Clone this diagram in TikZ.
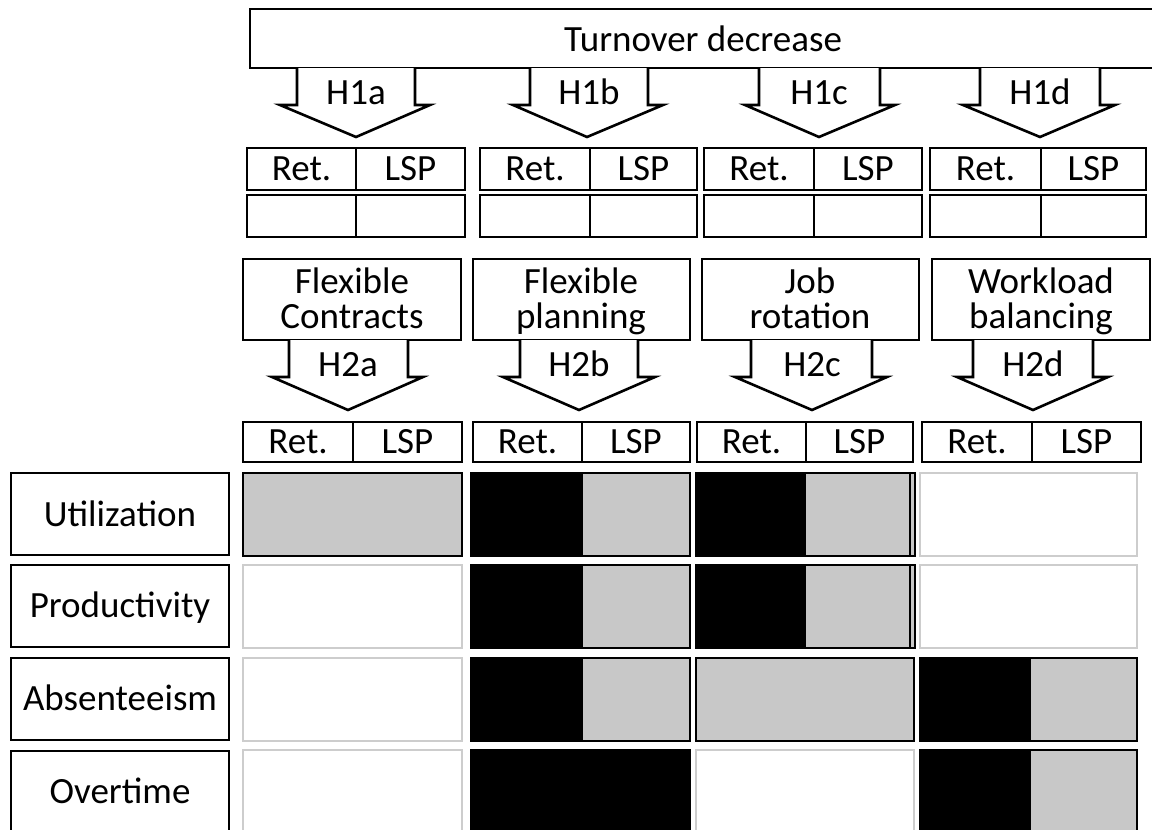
\documentclass[tikz,border=0pt]{standalone}
\usepackage{fontspec}
\setmainfont{Carlito}
\usetikzlibrary{calc}
\definecolor{cellgrey}{RGB}{200,200,200}
\definecolor{lightedge}{RGB}{205,205,205}
\tikzset{
  box/.style={draw=black, line width=2.6pt, fill=white, inner sep=0pt, outer sep=0pt},
  greybox/.style={box, fill=cellgrey},
  blackbox/.style={box, fill=black},
  faintbox/.style={box, draw=lightedge},
  txt/.style={font=\fontsize{37}{35}\selectfont, anchor=base, inner sep=0pt},
  barrow/.style={draw=black, line width=2.6pt, fill=white, line join=miter, miter limit=20}
}
\newcommand\mybox[6]{%
  \pgfmathsetmacro\bw{#4-#2}\pgfmathsetmacro\bh{#5-#3}%
  \node[#6, minimum width=\bw pt, minimum height=\bh pt] (#1) at ({(#2+#4)/2},{(#3+#5)/2}) {};}
% top, wing, tip, shaftL, shaftR, wingL, wingR, tipx
\newcommand\blockarrow[8]{%
  \draw[barrow] (#4,#1) -- (#4,#2) -- (#6,#2) -- (#8,#3) -- (#7,#2) -- (#5,#2) -- (#5,#1);}
\begin{document}
\begin{tikzpicture}[x=1pt,y=-1pt]
\useasboundingbox (0,0) rectangle (1152,830);
\clip (0,0) rectangle (1152,830);
% top box
\mybox{top}{250}{9}{1158}{68}{box}
\node[txt] (toptxt) at (703,51) {Turnover decrease};
% H1 arrows
\blockarrow{68}{105}{137}{297}{415}{280}{430}{356}
\blockarrow{68}{105}{137}{530}{648}{513}{663}{587}
\blockarrow{68}{105}{137}{759}{880}{745}{895}{819}
\blockarrow{68}{105}{137}{980}{1100}{963}{1115}{1040}
\node[txt] (h1a) at (356,104) {H1a};
\node[txt] (h1b) at (589,104) {H1b};
\node[txt] (h1c) at (819,104) {H1c};
\node[txt] (h1d) at (1040,104) {H1d};
% Ret/LSP row 1
\foreach \n/\a/\m/\b in {a/247/356/465, b/480/590/697, c/704/814/922, d/930/1041/1146}{
  \mybox{r1\n}{\a}{148}{\m}{190}{box}
  \mybox{l1\n}{\m}{148}{\b}{190}{box}
  \mybox{e1r\n}{\a}{195}{\m}{237}{box}
  \mybox{e1l\n}{\m}{195}{\b}{237}{box}
  \node[txt] at ($(r1\n.center)+(0,11)$) {Ret.};
  \node[txt] at ($(l1\n.center)+(0,11)$) {LSP};
}
% strategy boxes
\mybox{sa}{243}{259}{461}{340}{box}
\mybox{sb}{473}{259}{690}{340}{box}
\mybox{sc}{702}{259}{919}{340}{box}
\mybox{sd}{932}{259}{1150}{340}{box}
\node[txt] at (352,293) {Flexible};
\node[txt] at (352,328) {Contracts};
\node[txt] at (581,293) {Flexible};
\node[txt] at (581,328) {planning};
\node[txt] at (810,293) {Job};
\node[txt] at (810,328) {rotation};
\node[txt] at (1041,293) {Workload};
\node[txt] at (1041,328) {balancing};
% H2 arrows
\blockarrow{340}{377}{410}{289}{408}{272}{423}{348}
\blockarrow{340}{377}{410}{520}{638}{503}{655}{579}
\blockarrow{340}{377}{410}{751}{872}{735}{887}{812}
\blockarrow{340}{377}{410}{973}{1093}{957}{1108}{1033}
\node[txt] (h2a) at (348,376) {H2a};
\node[txt] (h2b) at (579,376) {H2b};
\node[txt] (h2c) at (812,376) {H2c};
\node[txt] (h2d) at (1033,376) {H2d};
% Ret/LSP row 2
\foreach \n/\a/\m/\b in {a/243/353/462, b/473/582/690, c/697/806/913, d/922/1032/1141}{
  \mybox{r2\n}{\a}{422}{\m}{462}{box}
  \mybox{l2\n}{\m}{422}{\b}{462}{box}
  \node[txt] at ($(r2\n.center)+(0,11)$) {Ret.};
  \node[txt] at ($(l2\n.center)+(0,11)$) {LSP};
}
% row labels
\mybox{util}{11}{473}{229}{555}{box}
\mybox{prod}{11}{565}{229}{647}{box}
\mybox{abs}{11}{658}{229}{740}{box}
\mybox{over}{11}{751}{229}{845}{box}
\node[txt] at (120,526) {Utilization};
\node[txt] at (120,617) {Productivity};
\node[txt] at (120,710) {Absenteeism};
\node[txt] at (120,803) {Overtime};
% column a
\mybox{ua}{243}{473}{462}{556}{greybox}
\mybox{pa}{243}{565}{462}{648}{faintbox}
\mybox{aa}{243}{658}{462}{741}{faintbox}
\mybox{oa}{243}{750}{462}{845}{faintbox}
% column b
\mybox{ub}{471}{473}{690}{556}{blackbox}
\mybox{ubg}{582}{473}{690}{556}{greybox}
\mybox{pb}{471}{565}{690}{648}{blackbox}
\mybox{pbg}{582}{565}{690}{648}{greybox}
\mybox{ab}{471}{658}{690}{741}{blackbox}
\mybox{abg}{582}{658}{690}{741}{greybox}
\mybox{ob}{471}{750}{690}{845}{blackbox}
% column c
\mybox{uc}{696}{473}{915}{556}{greybox}
\mybox{ucb}{696}{473}{805}{556}{blackbox}
\mybox{ucg}{805}{473}{910}{556}{greybox}
\mybox{pc}{696}{565}{915}{648}{greybox}
\mybox{pcb}{696}{565}{805}{648}{blackbox}
\mybox{pcg}{805}{565}{910}{648}{greybox}
\mybox{ac}{696}{658}{914}{741}{greybox}
\mybox{oc}{696}{750}{914}{845}{faintbox}
% column d
\mybox{ud}{920}{473}{1137}{556}{faintbox}
\mybox{pd}{920}{565}{1137}{648}{faintbox}
\mybox{ad}{920}{658}{1137}{741}{blackbox}
\mybox{adg}{1030}{658}{1137}{741}{greybox}
\mybox{od}{920}{750}{1137}{845}{blackbox}
\mybox{odg}{1030}{750}{1137}{845}{greybox}
\end{tikzpicture}
\end{document}
